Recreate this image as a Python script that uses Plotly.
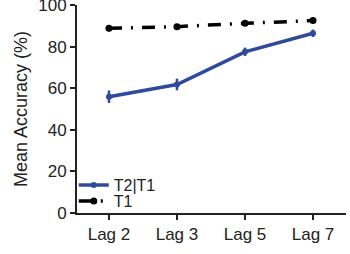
import plotly.graph_objects as go

categories = ["Lag 2", "Lag 3", "Lag 5", "Lag 7"]
t2t1 = [55.9, 61.8, 77.5, 86.4]
t2t1_err = [3.0, 2.8, 2.0, 1.8]
t1 = [88.8, 89.6, 91.2, 92.5]
t1_err = [1.4, 1.2, 1.2, 1.2]

BLUE = "#2F4A9C"
FONT = "Liberation Sans, Arial, Helvetica, sans-serif"

fig = go.Figure()
fig.add_trace(go.Scatter(
    x=categories, y=t2t1, name="T2|T1", mode="lines+markers",
    line=dict(color=BLUE, width=3.5),
    marker=dict(size=6, color=BLUE),
    error_y=dict(type="data", array=t2t1_err, color=BLUE, thickness=2.5, width=0),
    legend="legend",
))
fig.add_trace(go.Scatter(
    x=categories, y=t1, name="T1", mode="lines+markers",
    line=dict(color="black", width=3.5, dash="13px,9px,2px,9px"),
    marker=dict(size=7, color="black"),
    error_y=dict(type="data", array=t1_err, color="black", thickness=2.5, width=0),
    legend="legend2",
))

leg_common = dict(xanchor="left", yanchor="middle", bgcolor="rgba(0,0,0,0)",
                  font=dict(family=FONT, size=16, color="#222"), itemwidth=30)
fig.update_layout(
    width=350, height=254,
    margin=dict(l=77, r=4, t=5, b=41),
    paper_bgcolor="white", plot_bgcolor="white",
    font=dict(family=FONT, size=17, color="#222"),
    showlegend=True,
    legend=dict(x=-0.012, y=(213 - 185) / 208, **leg_common),
    legend2=dict(x=-0.012, y=(213 - 201) / 208, **leg_common),
)
fig.update_xaxes(
    type="category", range=[-0.47, 3.485], automargin=False,
    showline=True, linecolor="#222", linewidth=2,
    ticks="outside", ticklen=5, tickwidth=2, tickcolor="#222",
    showgrid=False, zeroline=False,
)
fig.update_yaxes(
    range=[0, 100], tickvals=[0, 20, 40, 60, 80, 100], automargin=False,
    ticklabeloverflow="allow",
    showline=True, linecolor="#222", linewidth=2,
    ticks="outside", ticklen=5, tickwidth=2, tickcolor="#222",
    showgrid=False, zeroline=False,
    title=dict(text="Mean Accuracy (%)", standoff=6, font=dict(size=18)),
)
fig.write_html("out.html", config={"displayModeBar": False},
               post_script="document.body.style.margin='0px';")
